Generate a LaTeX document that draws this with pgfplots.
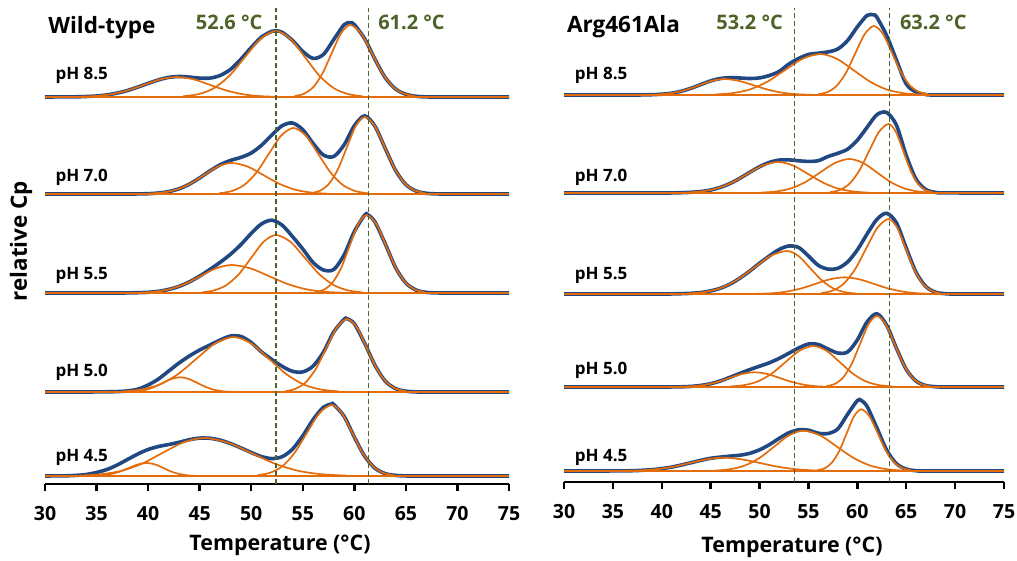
\documentclass[border=0pt]{standalone}
\usepackage{fontspec}
\setmainfont{Open Sans}
\usepackage{pgfplots}
\pgfplotsset{compat=1.18}
\definecolor{dscblue}{RGB}{34,72,130}
\definecolor{dscorange}{RGB}{228,108,10}
\definecolor{dscolive}{RGB}{79,98,40}
\pgfplotsset{
  dsc/.style={scale only axis, xmin=30, xmax=75, ymin=0,
    axis x line*=bottom, axis y line=none,
    xtick={30,35,...,75}, xtick align=outside, major tick length=7pt,
    tick style={line width=2.4pt, black}, axis line style={line width=2.6pt, black},
    xticklabel style={font=\fontsize{19.5}{22}\selectfont\bfseries, yshift=-12pt},
    /pgf/number format/assume math mode=true, clip=false},
  dat/.style={color=dscblue, line width=3.6pt, smooth},
  fit/.style={color=dscorange, line width=1.7pt, smooth},
  base/.style={color=dscorange, line width=1.7pt},
  tm/.style={color=dscolive, line width=1.4pt, dash pattern=on 5pt off 3pt},
}
\newcommand{\phfont}{\fontsize{17}{20}\selectfont\bfseries}
\newcommand{\tmfont}{\fontsize{20}{24}\selectfont\bfseries}
\newcommand{\lblfont}{\fontsize{21.4}{25}\selectfont\bfseries}
\begin{document}
\begin{tikzpicture}
\path[use as bounding box] (0,0) rectangle (1017pt,560pt);

% ---------------- wild-type ----------------
\begin{axis}[dsc, at={(45pt,76pt)}, anchor=south west, width=464pt, height=476pt, ymax=476]
% pH 8.5
\addplot[dat] coordinates {(30,387)(33,387.2)(34,387.5)(35,388)(36,389.1)(37,390.9)(38,393.5)(39,396.9)(40,400.6)(41,404.1)(42,406.6)(43,407.5)(44,406.9)(45,405.9)(46,405.9)(47,408.6)(48,414.7)(49,424.8)(50,436.5)(51,447)(52,452.7)(52.4,453.2)(53,451.7)(54,443.6)(55,432.6)(56,425.6)(57,429.5)(58,444.4)(59,459.2)(59.6,461.4)(60,459.4)(61,445.2)(62,424.7)(63,406.4)(64,395)(65,389.7)(66,387.7)(67,387.1)(68,387)(75,387)};
\addplot[base] coordinates {(30,387)(75,387)};
\addplot[fit] coordinates {(33.2,387.2)(34.8,387.9)(36.4,389.7)(38.0,393.5)(39.6,399.1)(41.2,404.7)(42.8,407.0)(44.4,404.7)(46.0,399.1)(47.6,393.5)(49.2,389.7)(50.8,387.9)(52.4,387.2)};
\addplot[fit] coordinates {(43.4,387.7)(44.9,389.9)(46.4,395.9)(47.9,408.4)(49.4,427.0)(50.9,445.2)(52.4,453.0)(53.8,445.2)(55.2,427.0)(56.6,408.4)(58.0,395.9)(59.4,389.9)(60.8,387.7)};
\addplot[fit] coordinates {(54.2,387.8)(55.1,390.2)(56.0,396.7)(56.9,410.4)(57.8,430.7)(58.7,450.5)(59.6,459.0)(60.65,450.5)(61.7,430.7)(62.75,410.4)(63.8,396.7)(64.85,390.2)(65.9,387.8)};
% pH 7.0
\addplot[dat] coordinates {(30,290)(38,290)(39,290.1)(40,290.3)(41,291)(42,292.4)(43,295.2)(44,299.8)(45,306.1)(46,313.1)(47,319.3)(48,323.6)(49,326.6)(50,331)(51,338.7)(52,349)(53,358.3)(54,361)(55,354.3)(56,340.6)(57,329)(58,327.5)(59,339)(60,358.2)(61,368.1)(62,357.8)(63,335.5)(64,313.6)(65,299.4)(66,292.9)(67,290.7)(68,290.1)(69,290)(75,290)};
\addplot[base] coordinates {(30,290)(75,290)};
\addplot[fit] coordinates {(40.0,290.3)(41.35,291.4)(42.7,294.2)(44.05,300.1)(45.4,308.8)(46.75,317.4)(48.1,321.0)(49.65,317.4)(51.2,308.8)(52.75,300.1)(54.3,294.2)(55.85,291.4)(57.4,290.3)};
\addplot[fit] coordinates {(46.9,290.7)(48.1,292.9)(49.3,298.9)(50.5,311.4)(51.7,330.0)(52.9,348.3)(54.1,356.0)(55.3,348.3)(56.5,330.0)(57.7,311.4)(58.9,298.9)(60.1,292.9)(61.3,290.7)};
\addplot[fit] coordinates {(55.84,290.9)(56.7,293.4)(57.56,300.4)(58.42,315.0)(59.28,336.7)(60.14,358.0)(61.0,367.0)(61.98,358.0)(62.95,336.7)(63.93,315.0)(64.9,300.4)(65.88,293.4)(66.85,290.9)};
% pH 5.5
\addplot[dat] coordinates {(30,191)(37,191)(38,191.1)(39,191.3)(40,191.7)(41,192.7)(42,194.6)(43,197.6)(44,202.1)(45,207.9)(46,214.6)(47,221.8)(48,229.8)(49,239.4)(50,250.6)(51,260.1)(52,263.8)(53,258.8)(54,247.5)(55,235)(56,221.5)(57,214)(58,214.5)(59,229)(60,252.4)(61,268.9)(61.3,269.3)(62,262.1)(63,240.1)(64,216.4)(65,200.9)(66,193.9)(67,191.6)(68,191.1)(69,191)(75,191)};
\addplot[base] coordinates {(30,191)(75,191)};
\addplot[fit] coordinates {(39.1,191.3)(40.6,192.2)(42.1,194.8)(43.6,200.1)(45.1,208.0)(46.6,215.7)(48.1,219.0)(49.9,215.7)(51.7,208.0)(53.5,200.1)(55.3,194.8)(57.1,192.2)(58.9,191.3)};
\addplot[fit] coordinates {(45.2,191.6)(46.4,193.6)(47.6,198.9)(48.8,209.8)(50.0,226.2)(51.2,242.2)(52.4,249.0)(53.8,242.2)(55.2,226.2)(56.6,209.8)(58.0,198.9)(59.4,193.6)(60.8,191.6)};
\addplot[fit] coordinates {(56.25,191.9)(57.08,194.4)(57.9,201.6)(58.73,216.3)(59.55,238.3)(60.38,259.8)(61.2,269.0)(62.14,259.8)(63.07,238.3)(64.01,216.3)(64.94,201.6)(65.88,194.4)(66.81,191.9)};
% pH 5.0
\addplot[dat] coordinates {(30,92)(34,92)(35,92.1)(36,92.2)(37,92.4)(38,93.1)(39,94.8)(40,99)(41,105)(42,113)(43,121)(44,128)(45,134)(46,139)(47,144)(48,148)(49,147.5)(50,141.5)(51,132.1)(52,124.5)(53,117.7)(54,112.7)(55,112.1)(56,117.9)(57,131.8)(58,152)(59,164.6)(59.3,165.3)(60,160.2)(61,140.9)(62,118.7)(63,102.9)(64,95.4)(65,92.8)(66,92.1)(67,92)(75,92)};
\addplot[base] coordinates {(30,92)(75,92)};
\addplot[fit] coordinates {(38.0,92.2)(38.85,92.6)(39.7,94.0)(40.55,96.8)(41.4,100.9)(42.25,105.0)(43.1,106.7)(43.95,105.0)(44.8,100.9)(45.65,96.8)(46.5,94.0)(47.35,92.6)(48.2,92.2)};
\addplot[fit] coordinates {(37.5,92.6)(39.3,94.4)(41.1,99.4)(42.9,109.9)(44.7,125.4)(46.5,140.5)(48.3,147.0)(50.0,140.5)(51.7,125.4)(53.4,109.9)(55.1,99.4)(56.8,94.4)(58.5,92.6)};
\addplot[fit] coordinates {(53.3,92.8)(54.3,95.2)(55.3,101.9)(56.3,115.7)(57.3,136.3)(58.3,156.4)(59.3,165.0)(60.25,156.4)(61.2,136.3)(62.15,115.7)(63.1,101.9)(64.05,95.2)(65.0,92.8)};
% pH 4.5
\addplot[dat] coordinates {(30,8)(31,8.1)(32,8.2)(33,8.6)(34,9.5)(35,11.5)(36,14.5)(37,19)(38,24.5)(39,30)(40,34.5)(41,37.5)(42,39.5)(43,41.7)(44,44.3)(45,45.9)(46,45.7)(47,43.8)(48,40.4)(49,36.1)(50,31.5)(51,27.4)(52,25.4)(53,27.3)(54,34.8)(55,48.2)(56,64.3)(57,76.8)(57.8,80)(58,79.5)(59,67.8)(60,47)(61,27.8)(62,15.8)(63,10.4)(64,8.6)(65,8.1)(66,8)(75,8)};
\addplot[base] coordinates {(30,8)(75,8)};
\addplot[fit] coordinates {(34.5,8.1)(35.4,8.6)(36.3,9.8)(37.2,12.2)(38.1,15.9)(39.0,19.5)(39.9,21.0)(40.7,19.5)(41.5,15.9)(42.3,12.2)(43.1,9.8)(43.9,8.6)(44.7,8.1)};
\addplot[fit] coordinates {(33.4,8.4)(35.4,9.7)(37.4,13.1)(39.4,20.3)(41.4,31.1)(43.4,41.5)(45.4,46.0)(47.7,41.5)(50.0,31.1)(52.3,20.3)(54.6,13.1)(56.9,9.7)(59.2,8.4)};
\addplot[fit] coordinates {(50.6,8.8)(51.8,11.1)(53.0,17.6)(54.2,31.1)(55.4,51.1)(56.6,70.7)(57.8,79.0)(58.8,70.7)(59.8,51.1)(60.8,31.1)(61.8,17.6)(62.8,11.1)(63.8,8.8)};
% transition temperatures
\addplot[tm] coordinates {(52.4,0)(52.4,476)};
\addplot[tm] coordinates {(61.4,0)(61.4,476)};
\node[anchor=east, text=dscolive, font=\tmfont, inner sep=0pt] at (axis cs:51.1,462) {52.6 °C};
\node[anchor=west, text=dscolive, font=\tmfont, inner sep=0pt] at (axis cs:62.3,462) {61.2 °C};
\node[anchor=west, font=\fontsize{22.5}{27}\selectfont\bfseries, inner sep=0pt] at (axis cs:30.3,456) {Wild-type};
\node[anchor=west, font=\phfont, inner sep=0pt] at (axis cs:31,409) {pH 8.5};
\node[anchor=west, font=\phfont, inner sep=0pt] at (axis cs:31,307) {pH 7.0};
\node[anchor=west, font=\phfont, inner sep=0pt] at (axis cs:31,209) {pH 5.5};
\node[anchor=west, font=\phfont, inner sep=0pt] at (axis cs:31,112) {pH 5.0};
\node[anchor=west, font=\phfont, inner sep=0pt] at (axis cs:31,27) {pH 4.5};
\end{axis}

% ---------------- Arg461Ala ----------------
\begin{axis}[dsc, at={(564pt,78pt)}, anchor=south west, width=440pt, height=474pt, ymax=474]
% pH 8.5
\addplot[dat] coordinates {(30,387)(37,387)(38,387.1)(39,387.3)(40,387.8)(41,388.8)(42,390.8)(43,393.8)(44,397.5)(45,401.1)(46,403.5)(47,404.3)(48,404)(49,403.5)(50,404.1)(51,406.5)(52,410.5)(53,418)(54,423.5)(55,427.5)(56,428.8)(57,430.1)(58,433)(59,441.4)(60,455.1)(61,466.6)(61.7,467.1)(62,464.7)(63,446.4)(64,421.9)(65,398)(66,390)(67,387.5)(68,387)(75,387)};
\addplot[base] coordinates {(30,387)(75,387)};
\addplot[fit] coordinates {(38.6,387.2)(39.9,387.7)(41.2,389.2)(42.5,392.2)(43.8,396.7)(45.1,401.1)(46.4,403.0)(47.9,401.1)(49.4,396.7)(50.9,392.2)(52.4,389.2)(53.9,387.7)(55.4,387.2)};
\addplot[fit] coordinates {(45.4,387.5)(47.2,388.8)(49.0,392.5)(50.8,400.3)(52.6,411.9)(54.4,423.2)(56.2,428.0)(57.9,423.2)(59.6,411.9)(61.3,400.3)(63.0,392.5)(64.7,388.8)(66.4,387.5)};
\addplot[fit] coordinates {(56.0,387.8)(56.95,390.0)(57.9,396.3)(58.85,409.4)(59.8,428.9)(60.75,447.9)(61.7,456.0)(62.63,447.9)(63.55,428.9)(64.48,409.4)(65.4,396.3)(66.33,390.0)(67.25,387.8)};
% pH 7.0
\addplot[dat] coordinates {(30,289)(40,289)(41,289.1)(42,289.3)(43,289.7)(44,290.5)(45,292)(46,294.7)(47,298.6)(48,303.8)(49,309.7)(50,315.3)(51,319.6)(52,321.9)(53,322.1)(54,321.2)(55,320.6)(56,321.3)(57,325.5)(58,328.7)(59,332.8)(60,341.8)(61,354.7)(62,367.3)(63,369.5)(64,356.8)(65,326.6)(66,302.9)(67,292.5)(68,289.6)(69,289.1)(75,289)};
\addplot[base] coordinates {(30,289)(75,289)};
\addplot[fit] coordinates {(42.3,289.3)(43.9,290.4)(45.5,293.2)(47.1,299.1)(48.7,307.8)(50.3,316.4)(51.9,320.0)(53.45,316.4)(55.0,307.8)(56.55,299.1)(58.1,293.2)(59.65,290.4)(61.2,289.3)};
\addplot[fit] coordinates {(50.2,289.4)(51.7,290.5)(53.2,293.6)(54.7,300.0)(56.2,309.6)(57.7,319.0)(59.2,323.0)(60.6,319.0)(62.0,309.6)(63.4,300.0)(64.8,293.6)(66.2,290.5)(67.6,289.4)};
\addplot[fit] coordinates {(57.2,289.8)(58.2,292.0)(59.2,298.3)(60.2,311.4)(61.2,330.9)(62.2,349.9)(63.2,358.0)(63.95,349.9)(64.7,330.9)(65.45,311.4)(66.2,298.3)(66.95,292.0)(67.7,289.8)};
% pH 5.5
\addplot[dat] coordinates {(30,188)(40,188)(41,188.1)(42,188.3)(43,188.7)(44,189.5)(45,191.1)(46,193.8)(47,198)(48,203.9)(49,211)(50,218.8)(51,226)(52,232.5)(53,236)(54,234.5)(55,226)(56,216.7)(57,212.9)(58,213.7)(59,220)(60,232.1)(61,248)(62,262.6)(63,268.7)(64,259.1)(65,234)(66,209.8)(67,195.5)(68,189.8)(69,188.3)(70,188)(75,188)};
\addplot[base] coordinates {(30,188)(75,188)};
\addplot[fit] coordinates {(42.6,188.5)(44.3,189.9)(46.0,193.8)(47.7,202.0)(49.4,214.1)(51.1,226.0)(52.8,231.0)(53.98,226.0)(55.15,214.1)(56.33,202.0)(57.5,193.8)(58.68,189.9)(59.85,188.5)};
\addplot[fit] coordinates {(49.7,188.2)(51.2,188.7)(52.7,190.3)(54.2,193.4)(55.7,198.1)(57.2,202.7)(58.7,204.7)(60.2,202.7)(61.7,198.1)(63.2,193.4)(64.7,190.3)(66.2,188.7)(67.7,188.2)};
\addplot[fit] coordinates {(56.3,188.8)(57.45,191.3)(58.6,198.2)(59.75,212.4)(60.9,233.5)(62.05,254.2)(63.2,263.0)(64.08,254.2)(64.95,233.5)(65.83,212.4)(66.7,198.2)(67.58,191.3)(68.45,188.8)};
% pH 5.0
\addplot[dat] coordinates {(30,95)(40,95)(41,95.1)(42,95.2)(43,95.6)(44,96.6)(45,98.3)(46,101.1)(47,104.8)(48,108.7)(49,112.4)(50,115.8)(51,119.2)(52,123.6)(53,128.8)(54,134)(55,138)(56,137.5)(57,133)(58,129)(59,130)(60,142)(61,160.1)(62,168.3)(63,156.7)(64,133.7)(65,112.7)(66,101)(67,96.5)(68,95.3)(69,95)(75,95)};
\addplot[base] coordinates {(30,95)(75,95)};
\addplot[fit] coordinates {(41.7,95.2)(43.0,95.6)(44.3,97.0)(45.6,99.8)(46.9,103.9)(48.2,108.0)(49.5,109.7)(50.8,108.0)(52.1,103.9)(53.4,99.8)(54.7,97.0)(56.0,95.6)(57.3,95.2)};
\addplot[fit] coordinates {(46.95,95.5)(48.38,96.8)(49.8,100.5)(51.23,108.3)(52.65,119.9)(54.08,131.2)(55.5,136.0)(56.85,131.2)(58.2,119.9)(59.55,108.3)(60.9,100.5)(62.25,96.8)(63.6,95.5)};
\addplot[fit] coordinates {(56.84,95.8)(57.7,98.1)(58.56,104.6)(59.42,118.1)(60.28,138.1)(61.14,157.7)(62.0,166.0)(62.9,157.7)(63.8,138.1)(64.7,118.1)(65.6,104.6)(66.5,98.1)(67.4,95.8)};
% pH 4.5
\addplot[dat] coordinates {(30,11)(34,11)(35,11.1)(36,11.1)(37,11.3)(38,11.7)(39,12.3)(40,13.4)(41,14.9)(42,17)(43,19.3)(44,21.7)(45,23.7)(46,24.9)(47,25.9)(48,26.8)(49,28.7)(50,32.2)(51,37.3)(52,43.6)(53,49.2)(54,52.2)(55,51.8)(56,48.8)(57,48.5)(58,53)(59,67.7)(60,81.4)(60.4,81.6)(61,75.5)(62,54.1)(63,31.9)(64,18.3)(65,12.9)(66,11.3)(67,11)(75,11)};
\addplot[base] coordinates {(30,11)(75,11)};
\addplot[fit] coordinates {(36.1,11.1)(37.8,11.6)(39.5,12.8)(41.2,15.3)(42.9,19.1)(44.6,22.7)(46.3,24.3)(48.15,22.7)(50.0,19.1)(51.85,15.3)(53.7,12.8)(55.55,11.6)(57.4,11.1)};
\addplot[fit] coordinates {(45.5,11.4)(47.0,12.8)(48.5,16.5)(50.0,24.1)(51.5,35.4)(53.0,46.6)(54.5,51.3)(56.2,46.6)(57.9,35.4)(59.6,24.1)(61.3,16.5)(63.0,12.8)(64.7,11.4)};
\addplot[fit] coordinates {(55.9,11.7)(56.65,13.7)(57.4,19.4)(58.15,31.0)(58.9,48.4)(59.65,65.5)(60.4,72.7)(61.25,65.5)(62.1,48.4)(62.95,31.0)(63.8,19.4)(64.65,13.7)(65.5,11.7)};
% transition temperatures
\addplot[tm] coordinates {(53.6,0)(53.6,474)};
\addplot[tm] coordinates {(63.3,0)(63.3,474)};
\node[anchor=east, text=dscolive, font=\tmfont, inner sep=0pt] at (axis cs:52.4,460) {53.2 °C};
\node[anchor=west, text=dscolive, font=\tmfont, inner sep=0pt] at (axis cs:64.35,460) {63.2 °C};
\node[anchor=west, font=\fontsize{22.5}{27}\selectfont\bfseries, inner sep=0pt] at (axis cs:30.3,455) {Arg461Ala};
\node[anchor=west, font=\phfont, inner sep=0pt] at (axis cs:31.1,407) {pH 8.5};
\node[anchor=west, font=\phfont, inner sep=0pt] at (axis cs:31.1,305) {pH 7.0};
\node[anchor=west, font=\phfont, inner sep=0pt] at (axis cs:31.1,207) {pH 5.5};
\node[anchor=west, font=\phfont, inner sep=0pt] at (axis cs:31.1,112) {pH 5.0};
\node[anchor=west, font=\phfont, inner sep=0pt] at (axis cs:31.1,25) {pH 4.5};
\end{axis}

\node[font=\lblfont] at (280pt,15pt) {Temperature (°C)};
\node[font=\lblfont] at (792pt,13pt) {Temperature (°C)};
\node[font=\fontsize{22.4}{26}\selectfont\bfseries, rotate=90] at (21pt,319pt) {relative Cp};
\end{tikzpicture}
\end{document}
